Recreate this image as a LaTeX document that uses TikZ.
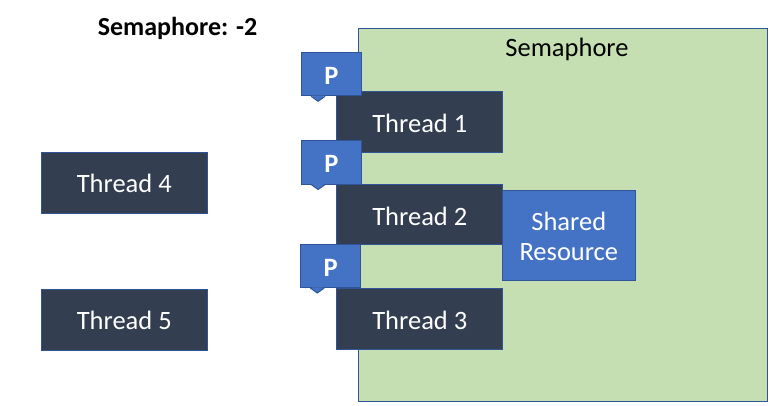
\documentclass[tikz,border=0pt]{standalone}
\usepackage{fontspec}
\setmainfont{Carlito}
\definecolor{semfill}{HTML}{C5DFB3}
\definecolor{semline}{HTML}{2F5597}
\definecolor{dark}{HTML}{333F50}
\definecolor{blue1}{HTML}{4472C4}
\tikzset{
  box/.style={draw=semline,line width=1pt,inner sep=0pt,anchor=north west,font=\fontsize{26.5}{30}\selectfont,text=white,align=center},
  threadbox/.style={box,fill=dark,minimum width=166pt,minimum height=60.5pt,text depth=0pt},
  pbox/.style={box,fill=blue1,minimum width=60.5pt,minimum height=43.5pt,text depth=0pt,text height=21pt,font=\fontsize{26.5}{30}\selectfont\bfseries},
  ptip/.style={draw=semline,fill=blue1,line width=1pt,line join=miter}
}
\newcommand{\ptipat}[1]{%
  \draw[ptip] ([xshift=10.5pt]#1.south west) -- ([xshift=17.5pt,yshift=-5pt]#1.south west) -- ([xshift=24.5pt]#1.south west);
  \fill[blue1] ([xshift=11.5pt,yshift=0.6pt]#1.south west) -- ([xshift=17.5pt,yshift=-4pt]#1.south west) -- ([xshift=23.5pt,yshift=0.6pt]#1.south west) -- cycle;
}
\begin{document}
\begin{tikzpicture}[x=1pt,y=-1pt]
\useasboundingbox (0,0) rectangle (783,406);
\node[draw=semline,fill=semfill,line width=1pt,anchor=north west,inner sep=0pt,minimum width=409pt,minimum height=373.5pt] (sem) at (357.9,27.6) {};
\node[font=\fontsize{26.5}{30}\selectfont,text=black] (semlabel) at (567,49.5) {Semaphore};
\node[font=\fontsize{26}{30}\selectfont\bfseries,text=black] (count) at (177.5,28.5) {Semaphore: -2};
\node[threadbox,text height=19pt] (t4) at (40.8,152.5) {Thread 4};
\node[threadbox,text height=20pt] (t5) at (40.8,289) {Thread 5};
\node[threadbox,text height=20.5pt] (t1) at (336.3,91.5) {Thread 1};
\node[threadbox,text height=22pt] (t2) at (336.3,183.5) {Thread 2};
\node[threadbox,text height=22pt] (t3) at (336.3,288) {Thread 3};
\node[box,fill=blue1,minimum width=133pt,minimum height=90pt] (res) at (501.8,189.5) {};
\node[font=\fontsize{26.5}{30}\selectfont,text=white,align=center,inner sep=0pt,yshift=-1.5pt] (reslabel) at (res.center) {Shared\\Resource};
\node[pbox] (p1) at (300.6,51.8) {P};
\ptipat{p1}
\node[pbox] (p2) at (300.6,140) {P};
\ptipat{p2}
\node[pbox] (p3) at (299.8,243.5) {P};
\ptipat{p3}
\end{tikzpicture}
\end{document}
